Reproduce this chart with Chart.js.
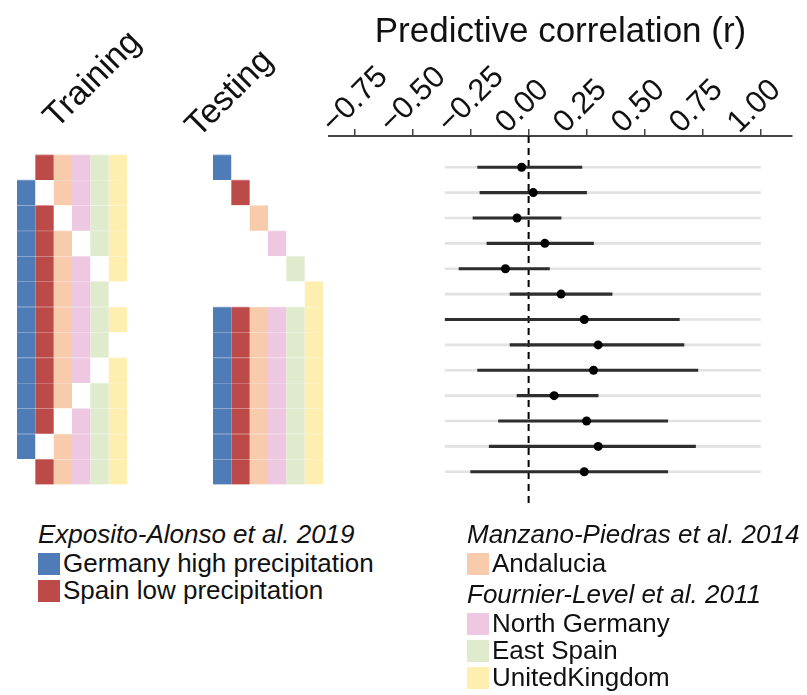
<!DOCTYPE html>
<html>
<head>
<meta charset="utf-8">
<script src="https://cdn.jsdelivr.net/npm/chart.js@4.4.1/dist/chart.umd.min.js"></script>
<style>
  body { margin: 0; background: #fff; }
  #page { position: relative; width: 807px; height: 695px; overflow: hidden;
          font-family: "Liberation Sans", Arial, sans-serif; color: #111; }
  canvas { position: absolute; top: 0; }
  .lab { position: absolute; white-space: nowrap; line-height: 1; }
  .rot { font-size: 34px; transform: translate(-50%, -50%) rotate(-45deg); }
  .leg { font-size: 26px; }
  .ttl { font-style: italic; }
  .sw { position: absolute; width: 22px; height: 22px; }
</style>
</head>
<body>
<div id="page">
  <canvas id="train" width="140" height="510" style="left:0"></canvas>
  <canvas id="test" width="140" height="510" style="left:200px"></canvas>
  <canvas id="forest" width="507" height="510" style="left:300px"></canvas>
  <div class="lab rot" style="left:91px;top:78px">Training</div>
  <div class="lab rot" style="left:228px;top:92px">Testing</div>
</div>
<script>
// populations (columns of the tile matrices) and the study each one comes from
const populations = ['Germany high precipitation', 'Spain low precipitation', 'Andalucia',
                     'North Germany', 'East Spain', 'UnitedKingdom'];
const studies = ['Exposito-Alonso et al. 2019', 'Manzano-Piedras et al. 2014', 'Fournier-Level et al. 2011'];
const studyOf = [0, 0, 1, 2, 2, 2];

// which populations are used for training / testing in each of the 13 rows
const training = [
  [0, 1, 1, 1, 1, 1],
  [1, 0, 1, 1, 1, 1],
  [1, 1, 0, 1, 1, 1],
  [1, 1, 1, 0, 1, 1],
  [1, 1, 1, 1, 0, 1],
  [1, 1, 1, 1, 1, 0],
  [1, 1, 1, 1, 1, 1],
  [1, 1, 1, 1, 1, 0],
  [1, 1, 1, 1, 0, 1],
  [1, 1, 1, 0, 1, 1],
  [1, 1, 0, 1, 1, 1],
  [1, 0, 1, 1, 1, 1],
  [0, 1, 1, 1, 1, 1]
];
const testing = [
  [1, 0, 0, 0, 0, 0],
  [0, 1, 0, 0, 0, 0],
  [0, 0, 1, 0, 0, 0],
  [0, 0, 0, 1, 0, 0],
  [0, 0, 0, 0, 1, 0],
  [0, 0, 0, 0, 0, 1],
  [1, 1, 1, 1, 1, 1],
  [1, 1, 1, 1, 1, 1],
  [1, 1, 1, 1, 1, 1],
  [1, 1, 1, 1, 1, 1],
  [1, 1, 1, 1, 1, 1],
  [1, 1, 1, 1, 1, 1],
  [1, 1, 1, 1, 1, 1]
];

// predictive correlation r with its interval, one per row
const estimate = [-0.03, 0.02, -0.05, 0.07, -0.10, 0.14, 0.24, 0.30, 0.28, 0.11, 0.25, 0.30, 0.24];
const lower    = [-0.22, -0.21, -0.24, -0.18, -0.30, -0.08, -0.36, -0.08, -0.22, -0.05, -0.13, -0.17, -0.25];
const upper    = [0.23, 0.25, 0.14, 0.28, 0.09, 0.36, 0.65, 0.67, 0.73, 0.30, 0.60, 0.72, 0.60];

const rTicks = [-0.75, -0.5, -0.25, 0, 0.25, 0.5, 0.75, 1];

const colors = ['#4f7bb7', '#bb4a48', '#f8cbad', '#eec8e1', '#e0ebcd', '#feeeaf'];
const FONT = '"Liberation Sans", Arial, sans-serif';
const yMin = -0.23, yMax = 14.23;

function tileChart(id, mask, padLeft, padRight) {
  const datasets = populations.map((name, c) => ({
    label: name,
    data: mask.map((row, r) => row[c] ? { x: [c, c + 1], y: r + 1 } : null).filter(Boolean),
    backgroundColor: colors[c],
    borderColor: colors[c] + '90',   // lighter seam between rows
    borderWidth: { top: 1, bottom: 0, left: 0, right: 0 },
    borderSkipped: false,
    barPercentage: 1,
    categoryPercentage: 1,
    grouped: false
  }));
  new Chart(document.getElementById(id), {
    type: 'bar',
    data: { datasets: datasets },
    options: {
      indexAxis: 'y',
      responsive: false,
      animation: false,
      devicePixelRatio: 1,
      layout: { padding: { left: padLeft, right: padRight, top: 136, bottom: 7 } },
      plugins: { legend: { display: false }, tooltip: { enabled: false } },
      scales: {
        x: { type: 'linear', display: false, min: 0, max: 6 },
        y: { type: 'linear', display: false, min: yMin, max: yMax, reverse: true, offset: false }
      }
    }
  });
}

tileChart('train', training, 17, 13);
tileChart('test', testing, 13, 17);

const rows = estimate.map((v, i) => i + 1);
const gridFrom = Math.min(...lower);
const gridTo = rTicks[rTicks.length - 1];

new Chart(document.getElementById('forest'), {
  type: 'bar',
  data: {
    datasets: [
      { type: 'scatter', data: estimate.map((v, i) => ({ x: v, y: rows[i] })),
        pointRadius: 4.5, backgroundColor: '#000', borderWidth: 0 },
      { type: 'bar', data: rows.map((r, i) => ({ x: [lower[i], upper[i]], y: r })),
        backgroundColor: '#2e2e2e', barThickness: 2.5, grouped: false },
      { type: 'line', data: [{ x: 0, y: yMin }, { x: 0, y: yMax }],
        borderColor: '#000', borderWidth: 2, borderDash: [7, 5], pointRadius: 0 },
      { type: 'bar', data: rows.map(r => ({ x: [gridFrom, gridTo], y: r })),
        backgroundColor: '#e2e2e2', barThickness: 2, grouped: false }
    ]
  },
  options: {
    indexAxis: 'y',
    responsive: false,
    animation: false,
    devicePixelRatio: 1,
    layout: { padding: { left: 29, right: 15, top: 0, bottom: 7 } },
    plugins: { legend: { display: false }, tooltip: { enabled: false } },
    scales: {
      x: {
        type: 'linear', position: 'top', min: -0.861, max: 1.136,
        afterBuildTicks: s => { s.ticks = rTicks.map(v => ({ value: v })); },
        afterFit: s => { s.height = 136; },
        grid: { drawOnChartArea: false, tickLength: 7, color: '#444', lineWidth: 1.5 },
        border: { display: true, color: '#444', width: 2 },
        ticks: {
          autoSkip: false, minRotation: 45, maxRotation: 45, padding: -12, labelOffset: -1,
          color: '#111', font: { size: 31, family: FONT },
          callback: v => (v < 0 ? '\u2212' : '') + Math.abs(v).toFixed(2)
        },
        title: { display: true, text: 'Predictive correlation (r)', color: '#111',
                 font: { size: 35, family: FONT }, padding: { top: 11, bottom: 0 } }
      },
      y: { type: 'linear', display: false, min: yMin, max: yMax, reverse: true, offset: false }
    }
  }
});

// legend grouped by study
const page = document.getElementById('page');
function addText(txt, x, top, italic) {
  const d = document.createElement('div');
  d.className = 'lab leg' + (italic ? ' ttl' : '');
  d.style.left = x + 'px';
  d.style.top = top + 'px';
  d.textContent = txt;
  page.appendChild(d);
}
function addSwatch(color, x, top) {
  const d = document.createElement('div');
  d.className = 'sw';
  d.style.left = x + 'px';
  d.style.top = top + 'px';
  d.style.background = color;
  page.appendChild(d);
}
const blocks = [{ x: 38, studies: [0] }, { x: 467, studies: [1, 2] }];
blocks.forEach(b => {
  let top = 521;
  b.studies.forEach((s, k) => {
    if (k > 0) top += 4;
    addText(studies[s], b.x, top, true);
    top += 29;
    populations.forEach((p, c) => {
      if (studyOf[c] !== s) return;
      addSwatch(colors[c], b.x, top + 3);
      addText(p, b.x + 25, top, false);
      top += 27;
    });
  });
});
</script>
</body>
</html>
